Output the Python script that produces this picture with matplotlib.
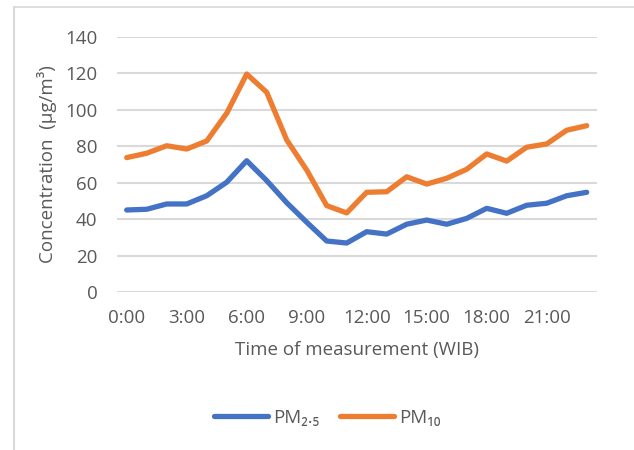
import numpy as np
import matplotlib.pyplot as plt
from matplotlib.lines import Line2D

plt.rcParams['font.family'] = ['Open Sans', 'DejaVu Sans']

hours = ["%d:00" % h for h in range(24)]
pm25 = [45.1, 45.5, 48.4, 48.4, 52.9, 60.3, 72.1, 61.2, 49.1, 38.4, 28.1, 27.0,
        33.2, 31.9, 37.3, 39.6, 37.3, 40.5, 46.0, 43.3, 47.7, 48.8, 52.9, 54.8]
pm10 = [73.8, 76.2, 80.3, 78.5, 82.9, 98.1, 119.6, 109.6, 83.5, 67.0, 47.5, 43.5,
        54.8, 55.1, 63.3, 59.3, 62.5, 67.4, 75.8, 71.9, 79.5, 81.3, 88.8, 91.3]
yticks = [0, 20, 40, 60, 80, 100, 120, 140]

text_col = '#595959'
grid_col = '#D9D9D9'
fs = 13.5

fig = plt.figure(figsize=(6.34, 4.5), dpi=100)
ax = fig.add_axes([116.7 / 634, 1 - 292.3 / 450, 480 / 634, (292.3 - 36.8) / 450])

x = np.arange(len(hours))
ax.plot(x, pm25, color='#4472C4', lw=3.8, solid_capstyle='round', solid_joinstyle='round', label='PM\u2082.\u2085', zorder=3)
ax.plot(x, pm10, color='#ED7D31', lw=3.8, solid_capstyle='round', solid_joinstyle='round', label='PM\u2081\u2080', zorder=3)

ax.set_xlim(-0.5, 23.5)
ax.set_ylim(0, 140)
ax.set_yticks(yticks)
ax.set_xticks(x[::3])
ax.set_xticklabels(hours[::3])
ax.yaxis.grid(True, color=grid_col, lw=1.5)
ax.set_axisbelow(True)
for s in ax.spines.values():
    s.set_visible(False)
ax.tick_params(axis='both', length=0, labelsize=fs, labelcolor=text_col)
ax.tick_params(axis='y', pad=14)
ax.tick_params(axis='x', pad=12)

ax.set_xlabel('Time of measurement (WIB)', fontsize=fs, color=text_col, labelpad=10)
ax.set_ylabel('Concentration  (\u00b5g/m\u00b3)', fontsize=fs, color=text_col, labelpad=6)

fig.legend(loc='center', bbox_to_anchor=(327 / 634, 1 - 418 / 450), ncol=2, frameon=False,
           fontsize=fs, handlelength=2.9, handletextpad=0.25, columnspacing=1.1,
           labelcolor=text_col)

# chart frame (top and left edges visible)
fig.add_artist(Line2D([13.5 / 634, 1], [1 - 7 / 450, 1 - 7 / 450], color=grid_col, lw=1.2, transform=fig.transFigure))
fig.add_artist(Line2D([13.5 / 634, 13.5 / 634], [0, 1 - 7 / 450], color=grid_col, lw=1.5, transform=fig.transFigure))

fig.savefig('out.png', dpi=100)
